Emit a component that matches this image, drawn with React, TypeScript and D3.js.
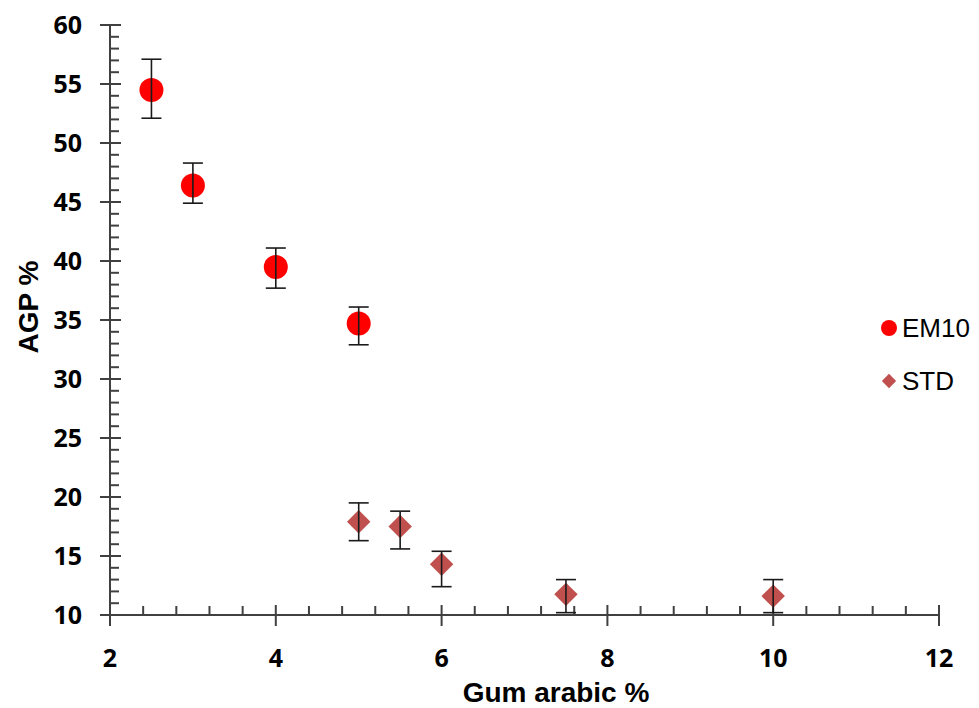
import React from "react";
import * as d3 from "d3";

const em10X = [2.5, 3, 4, 5];
const em10Y = [54.5, 46.4, 39.5, 34.7];
const em10Hi = [57.1, 48.3, 41.1, 36.1];
const em10Lo = [52.1, 44.9, 37.7, 32.9];

const stdX = [5, 5.5, 6, 7.5, 10];
const stdY = [17.9, 17.5, 14.3, 11.75, 11.6];
const stdHi = [19.5, 18.8, 15.4, 13.0, 13.0];
const stdLo = [16.3, 15.6, 12.4, 10.2, 10.2];

const xTicks = [2, 4, 6, 8, 10, 12];
const yTicks = [10, 15, 20, 25, 30, 35, 40, 45, 50, 55, 60];
const seriesNames = ["EM10", "STD"];

const W = 979;
const H = 708;

export default function App() {
  const x = d3.scaleLinear().domain([2, 12]).range([110, 939]);
  const y = d3.scaleLinear().domain([10, 60]).range([615, 25]);
  const xMinor = d3.range(2, 12.001, 0.4).filter((v) => Math.abs(v / 2 - Math.round(v / 2)) > 1e-6);
  const yMinor = d3.range(10, 60.001, 1).filter((v) => v % 5 !== 0);
  const axisColor = "#404040";
  const tickFont = "'Open Sans', 'DejaVu Sans', sans-serif";
  const titleFont = "'Liberation Sans', Arial, sans-serif";
  const diamond = d3.symbol().type(d3.symbolDiamond2).size(350)();
  const diamondSmall = d3.symbol().type(d3.symbolDiamond2).size(130)();

  const errBar = (cx: number, hi: number, lo: number, key: string) => (
    <g key={key} stroke="#1a1a1a" strokeWidth={1.6}>
      <line x1={x(cx)} x2={x(cx)} y1={y(hi)} y2={y(lo)} />
      <line x1={x(cx) - 10} x2={x(cx) + 10} y1={y(hi)} y2={y(hi)} />
      <line x1={x(cx) - 10} x2={x(cx) + 10} y1={y(lo)} y2={y(lo)} />
    </g>
  );

  return (
    <svg
      width={W}
      height={H}
      style={{ position: "absolute", left: 0, top: 0, background: "#fff" }}
    >
      {/* axes */}
      <line x1={x(2)} x2={x(2)} y1={y(10)} y2={y(60)} stroke={axisColor} strokeWidth={2} />
      <line x1={x(2)} x2={x(12)} y1={y(10)} y2={y(10)} stroke={axisColor} strokeWidth={2} />
      {yTicks.map((t) => (
        <g key={"yt" + t}>
          <line x1={x(2) - 10} x2={x(2) + 11} y1={y(t)} y2={y(t)} stroke={axisColor} strokeWidth={2} />
          <text
            x={82}
            y={y(t)}
            dy="0.36em"
            textAnchor="end"
            fontFamily={tickFont}
            fontWeight={700}
            fontSize={25}
            fill="#000"
          >
            {t}
          </text>
        </g>
      ))}
      {yMinor.map((t) => (
        <line key={"ym" + t} x1={x(2)} x2={x(2) + 9} y1={y(t)} y2={y(t)} stroke={axisColor} strokeWidth={2} />
      ))}
      {xTicks.map((t) => (
        <g key={"xt" + t}>
          <line x1={x(t)} x2={x(t)} y1={y(10) - 10} y2={y(10) + 11} stroke={axisColor} strokeWidth={2} />
          <text
            x={x(t)}
            y={658}
            dy="0.36em"
            textAnchor="middle"
            fontFamily={tickFont}
            fontWeight={700}
            fontSize={25}
            fill="#000"
          >
            {t}
          </text>
        </g>
      ))}
      {xMinor.map((t) => (
        <line key={"xm" + t} x1={x(t)} x2={x(t)} y1={y(10) - 9} y2={y(10)} stroke={axisColor} strokeWidth={2} />
      ))}

      {/* axis titles */}
      <text
        transform={`translate(38, 307) rotate(-90)`}
        textAnchor="middle"
        fontFamily={titleFont}
        fontWeight={700}
        fontSize={28}
        fill="#000"
      >
        AGP %
      </text>
      <text
        x={556}
        y={702}
        textAnchor="middle"
        fontFamily={titleFont}
        fontWeight={700}
        fontSize={28}
        fill="#000"
      >
        Gum arabic %
      </text>

      {/* STD series */}
      {stdX.map((v, i) => (
        <path key={"sd" + i} d={diamond} transform={`translate(${x(v)},${y(stdY[i])})`} fill="#c0504d" />
      ))}
      {stdX.map((v, i) => errBar(v, stdHi[i], stdLo[i], "se" + i))}

      {/* EM10 series */}
      {em10X.map((v, i) => (
        <circle key={"ec" + i} cx={x(v)} cy={y(em10Y[i])} r={12} fill="#ff0000" />
      ))}
      {em10X.map((v, i) => errBar(v, em10Hi[i], em10Lo[i], "ee" + i))}

      {/* legend */}
      <circle cx={889} cy={328} r={8} fill="#ff0000" />
      <text x={902} y={328} dy="0.35em" fontFamily={titleFont} fontSize={26} fill="#000">
        {seriesNames[0]}
      </text>
      <path d={diamondSmall} transform="translate(889,381)" fill="#c0504d" />
      <text x={902} y={381} dy="0.35em" fontFamily={titleFont} fontSize={26} fill="#000">
        {seriesNames[1]}
      </text>
    </svg>
  );
}
